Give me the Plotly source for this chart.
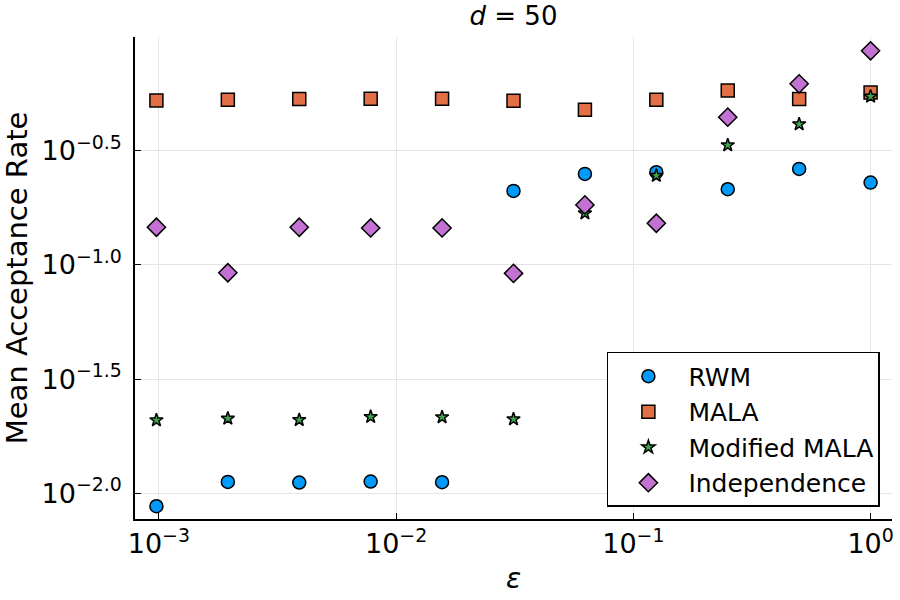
import plotly.graph_objects as go

eps = [2**-10, 2**-9, 2**-8, 2**-7, 2**-6, 2**-5, 2**-4, 2**-3, 2**-2, 2**-1, 1.0]

rwm = [0.00877, 0.01121, 0.01114, 0.01125, 0.01117, 0.2112, 0.2506, 0.2550, 0.2148, 0.2636, 0.2296]
mala = [0.5255, 0.5293, 0.5331, 0.5347, 0.5347, 0.5240, 0.4783, 0.5293, 0.5813, 0.5331, 0.5697]
mod_mala = [0.02090, 0.02126, 0.02096, 0.02161, 0.02154, 0.02111, 0.1685, 0.2464, 0.3350, 0.4141, 0.5473]
indep = [0.1463, 0.0925, 0.1463, 0.1453, 0.1453, 0.0919, 0.1833, 0.1524, 0.4444, 0.6221, 0.8681]

series = [
    ("RWM", rwm, "circle", "#009AFA", 13),
    ("MALA", mala, "square", "#E36F47", 13),
    ("Modified MALA", mod_mala, "star", "#3EA44E", 10),
    ("Independence", indep, "diamond", "#C371D2", 14),
]

x_tickvals = [1e-3, 1e-2, 1e-1, 1e0]
x_ticktext = ["10<sup>−3</sup>", "10<sup>−2</sup>", "10<sup>−1</sup>", "10<sup>0</sup>"]
y_tickvals = [10**-2.0, 10**-1.5, 10**-1.0, 10**-0.5]
y_ticktext = ["10<sup>−2.0</sup>", "10<sup>−1.5</sup>", "10<sup>−1.0</sup>", "10<sup>−0.5</sup>"]

fig = go.Figure()
for name, vals, sym, col, sz in series:
    fig.add_trace(go.Scatter(
        x=eps, y=vals, mode="markers", name=name,
        marker=dict(symbol=sym, color=col, size=sz, line=dict(color="black", width=1.5)),
    ))

font = "DejaVu Sans"
fig.update_layout(
    width=900, height=600,
    paper_bgcolor="white", plot_bgcolor="white",
    margin=dict(l=135, r=6, t=37, b=81),
    font=dict(family=font, color="black"),
    title=dict(text="<i>d</i> = 50", x=0.5, xref="paper", xanchor="center",
               y=0.973, yref="container", yanchor="middle", font=dict(size=26)),
    showlegend=True,
    legend=dict(x=0.984, xanchor="right", y=0.025, yanchor="bottom",
                bordercolor="black", borderwidth=1.5, bgcolor="white",
                font=dict(size=25), itemsizing="trace", itemwidth=70,
                tracegroupgap=0),
)
fig.update_xaxes(
    type="log", range=[-3.1006, 0.0903],
    tickvals=x_tickvals, ticktext=x_ticktext, tickfont=dict(size=27),
    ticks="inside", ticklen=6, tickcolor="black",
    showline=True, linecolor="black", linewidth=1.5, mirror=False,
    showgrid=True, gridcolor="#e5e5e5", gridwidth=1, zeroline=False,
    title=dict(text="<i>ε</i>", font=dict(size=28), standoff=10),
)
fig.update_yaxes(
    type="log", range=[-2.113, -0.001],
    tickvals=y_tickvals, ticktext=y_ticktext, tickfont=dict(size=27),
    ticks="inside", ticklen=6, tickcolor="black", ticklabelstandoff=6,
    showline=True, linecolor="black", linewidth=1.5, mirror=False,
    showgrid=True, gridcolor="#e5e5e5", gridwidth=1, zeroline=False,
    title=dict(text="Mean Acceptance Rate", font=dict(size=29), standoff=5),
)

fig.write_html("out.html")
